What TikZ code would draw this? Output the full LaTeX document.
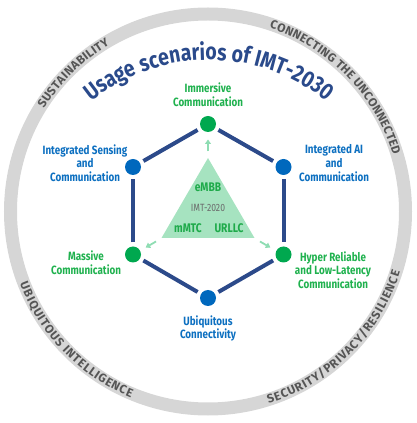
\documentclass[tikz,border=0pt]{standalone}
\usepackage{fontspec}
\setmainfont{Fira Sans}
\newfontfamily\cond{Fira Sans}[FakeStretch=0.82]
\newfontfamily\titlecond{Fira Sans}[FakeStretch=0.84]
\newfontfamily\ringfam{Fira Sans}
\usetikzlibrary{arrows.meta,decorations.text}
\definecolor{ringgray}{HTML}{D6D6D6}
\definecolor{ringtxt}{HTML}{555555}
\definecolor{navy}{HTML}{2C4A8A}
\definecolor{titleblue}{HTML}{2A4A8B}
\definecolor{dotgreen}{HTML}{00A84F}
\definecolor{dotblue}{HTML}{0068BD}
\definecolor{lblgreen}{HTML}{1FB14E}
\definecolor{lblblue}{HTML}{0C6FC0}
\definecolor{trifill}{HTML}{A6E3C0}
\definecolor{arrgreen}{HTML}{8FDDB3}
\definecolor{trigreen}{HTML}{1EAA4A}
\definecolor{imtgray}{HTML}{6B6B6B}
\newcommand{\ringfont}{\color{ringtxt}\ringfam\bfseries\fontsize{12}{12}\selectfont}
\newcommand{\titlefont}{\color{titleblue}\titlecond\bfseries\fontsize{23.2}{23.2}\selectfont}
\tikzset{
  hexedge/.style={line width=4pt, draw=navy},
  dotg/.style={circle, fill=dotgreen, minimum size=16pt, inner sep=0pt, outer sep=4pt},
  dotb/.style={circle, fill=dotblue, minimum size=16pt, inner sep=0pt, outer sep=4pt},
  lblg/.style={align=center, text=lblgreen, font=\cond\bfseries\fontsize{12}{13.7}\selectfont},
  lblb/.style={align=center, text=lblblue, font=\cond\bfseries\fontsize{12}{13.7}\selectfont},
  tritxt/.style={text=trigreen, font=\cond\bfseries\fontsize{12.5}{13}\selectfont},
  smallarr/.style={-{Triangle[length=4.5pt,width=6pt]}, line width=1.8pt, draw=arrgreen},
  ringtext/.style={decorate, decoration={text along path, text={|\ringfont|#1}, text align={fit to path}}},
  titletext/.style={decorate, decoration={text along path, text={|\titlefont|#1}, text align=center}}
}
\begin{document}
\begin{tikzpicture}[x=1pt,y=1pt]
\useasboundingbox (0,0) rectangle (417,423);
\coordinate (C) at (208,211.5);
% ring
\draw[ringgray, line width=13pt] (C) circle[radius=197.5];
% ring texts
\path[ringtext={SUSTAINABILITY}] ([shift={(148:193.5)}]C) arc[start angle=148, end angle=120.5, radius=193.5];
\path[ringtext={CONNECTING THE UNCONNECTED}] ([shift={(71.5:193.5)}]C) arc[start angle=71.5, end angle=17, radius=193.5];
\path[ringtext={UBIQUITOUS INTELLIGENCE}] ([shift={(201:201.5)}]C) arc[start angle=201, end angle=247.5, radius=201.5];
\path[ringtext={SECURITY/PRIVACY/RESILIENCE}] ([shift={(287.5:201.5)}]C) arc[start angle=287.5, end angle=342.5, radius=201.5];
% title
\coordinate (TC) at (209,175);
\path[titletext={Usage scenarios of IMT-2030}] ([shift={(135:188)}]TC) arc[start angle=135, end angle=45, radius=188];
% triangle
\coordinate (t1) at (208,265);
\coordinate (t2) at (161.5,185);
\coordinate (t3) at (254.5,185);
\fill[trifill] (t1) -- (t2) -- (t3) -- cycle;
\node[tritxt] (embb) at (208,236) {eMBB};
\node[text=imtgray, font=\cond\fontsize{10.5}{12}\selectfont] (imt) at (208,215) {IMT-2020};
\node[tritxt] (mmtc) at (188,195) {mMTC};
\node[tritxt] (urllc) at (229,195) {URLLC};
% small arrows
\coordinate (a1s) at ([shift={(90:60)}]C);  \coordinate (a1e) at ([shift={(90:72)}]C);
\coordinate (a2s) at ([shift={(210:60)}]C); \coordinate (a2e) at ([shift={(210:72)}]C);
\coordinate (a3s) at ([shift={(330:60)}]C); \coordinate (a3e) at ([shift={(330:72)}]C);
\draw[smallarr] (a1s) -- (a1e);
\draw[smallarr] (a2s) -- (a2e);
\draw[smallarr] (a3s) -- (a3e);
% hexagon dots
\node[dotg] (top) at (208,299) {};
\node[dotb] (ul) at (133,256) {};
\node[dotb] (ur) at (283.5,256) {};
\node[dotg] (ll) at (133,168.5) {};
\node[dotg] (lr) at (283.5,168.5) {};
\node[dotb] (bot) at (208,125) {};
\draw[hexedge] (top) -- (ur);
\draw[hexedge] (ur) -- (lr);
\draw[hexedge] (lr) -- (bot);
\draw[hexedge] (bot) -- (ll);
\draw[hexedge] (ll) -- (ul);
\draw[hexedge] (ul) -- (top);
% labels
\node[lblg] (limm) at (208,328) {Immersive\\Communication};
\node[lblb] (lisac) at (85,260) {Integrated Sensing\\and\\Communication};
\node[lblb] (liai) at (334,260) {Integrated AI\\and\\Communication};
\node[lblg] (lmass) at (86,160) {Massive\\Communication};
\node[lblg] (lhrllc) at (333,153) {Hyper Reliable\\and Low-Latency\\Communication};
\node[lblb] (lubi) at (208,94.5) {Ubiquitous\\Connectivity};
\end{tikzpicture}
\end{document}
